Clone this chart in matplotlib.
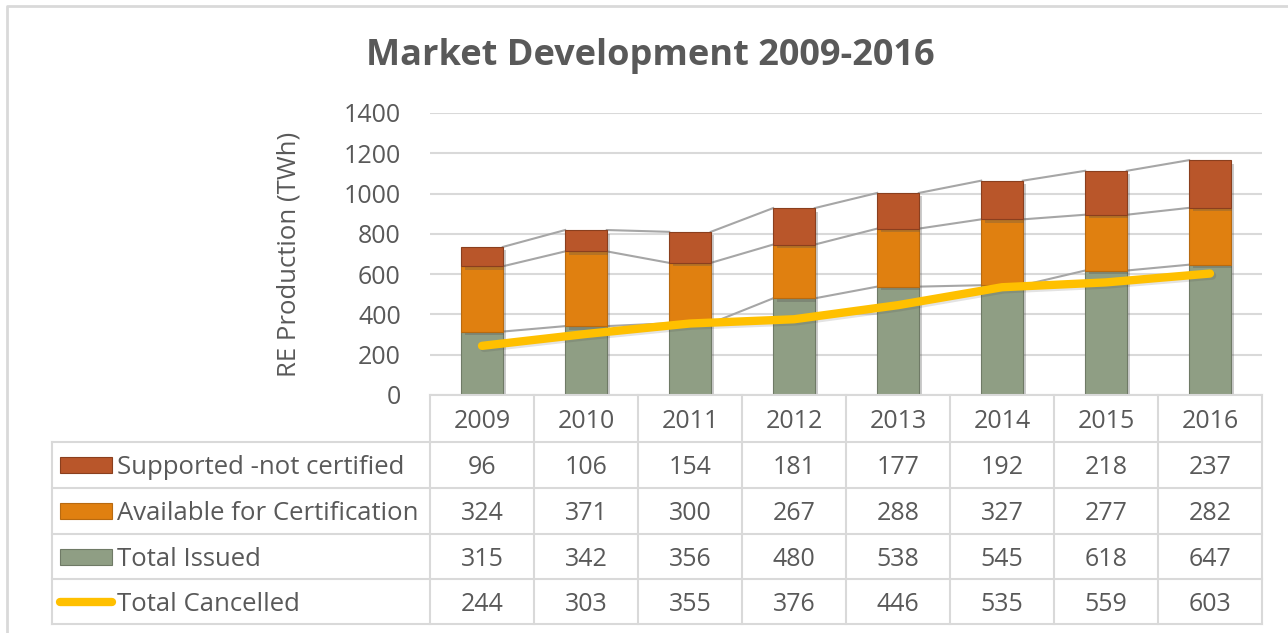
import matplotlib
matplotlib.use("Agg")
import matplotlib.pyplot as plt
import matplotlib.transforms as mtransforms
import matplotlib.patheffects as pe
from matplotlib.patches import Rectangle
from matplotlib.lines import Line2D
import numpy as np

years = ["2009", "2010", "2011", "2012", "2013", "2014", "2015", "2016"]
supported_not_certified = [96, 106, 154, 181, 177, 192, 218, 237]
available_for_cert = [324, 371, 300, 267, 288, 327, 277, 282]
total_issued = [315, 342, 356, 480, 538, 545, 618, 647]
total_cancelled = [244, 303, 355, 376, 446, 535, 559, 603]

series_names = ["Supported -not certified", "Available for Certification",
                "Total Issued", "Total Cancelled"]
c_sup = "#B9562A"
c_avail = "#E08010"
c_issued = "#8F9E84"
c_cancel = "#FFC000"
grid_c = "#D9D9D9"
text_c = "#595959"

FONT = "Open Sans"
plt.rcParams["font.family"] = [FONT, "DejaVu Sans"]

W, H = 1288, 633
fig = plt.figure(figsize=(W / 100, H / 100), dpi=100)

def fx(px):
    return px / W

def fy(py):
    return 1 - py / H

# plot area in pixels
L, R, T, B = 430, 1262, 113, 395
ax = fig.add_axes([fx(L), fy(B), fx(R - L), (B - T) / H])
ax.set_xlim(-0.5, len(years) - 0.5)
ax.set_ylim(0, 1400)
ax.set_yticks(np.arange(0, 1401, 200))
ax.set_xticks([])
ax.grid(axis="y", color=grid_c, linewidth=1.5)
ax.set_axisbelow(True)
for s in ax.spines.values():
    s.set_visible(False)
ax.tick_params(axis="y", length=0, pad=21, labelsize=18, labelcolor=text_c)
ax.set_ylabel("RE Production (TWh)", fontsize=18.5, color=text_c, labelpad=30)

x = np.arange(len(years))
bw = 0.4
shadow = [pe.SimplePatchShadow(offset=(2.5, -2.5), alpha=0.3, shadow_rgbFace="#555555"), pe.Normal()]
b1 = ax.bar(x, total_issued, bw, color=c_issued, edgecolor="#6f7a66", linewidth=0.8, zorder=3)
bot2 = np.array(total_issued)
b2 = ax.bar(x, available_for_cert, bw, bottom=bot2, color=c_avail, edgecolor="#b86a10", linewidth=0.8, zorder=3)
bot3 = bot2 + np.array(available_for_cert)
b3 = ax.bar(x, supported_not_certified, bw, bottom=bot3, color=c_sup, edgecolor="#8a3f1e", linewidth=0.8, zorder=3)
top = bot3 + np.array(supported_not_certified)
for bars in (b1, b2, b3):
    for p in bars:
        p.set_path_effects(shadow)

# series lines connecting segment tops
for level in (bot2, bot3, top):
    for i in range(len(years) - 1):
        ax.plot([x[i] + bw / 2, x[i + 1] - bw / 2], [level[i], level[i + 1]],
                color="#A6A6A6", linewidth=1.5, zorder=2)

ax.plot(x, total_cancelled, color=c_cancel, linewidth=6, solid_capstyle="round",
        zorder=5,
        path_effects=[pe.SimpleLineShadow(offset=(1.5, -1.5), alpha=0.15, shadow_color="#444444"), pe.Normal()])

# title
fig.text(fx(650), fy(56), "Market Development 2009-2016", ha="center", va="center",
         fontsize=26, fontweight="bold", color=text_c)

# data table
tr = mtransforms.blended_transform_factory(ax.transData, fig.transFigure)
rows_px = [395, 442, 488, 534, 579, 624]
TL = 52
TOFF = 3
# horizontal lines
for i, yp in enumerate(rows_px[1:]):
    fig.add_artist(Line2D([fx(TL), fx(R)], [fy(yp), fy(yp)], color=grid_c, linewidth=1.5))
fig.add_artist(Line2D([fx(L), fx(R)], [fy(rows_px[0]), fy(rows_px[0])], color=grid_c, linewidth=1.5))
# vertical lines
for k in range(len(years) + 1):
    xb = k - 0.5
    fig.add_artist(Line2D([xb, xb], [fy(rows_px[0]), fy(rows_px[-1])], color=grid_c,
                          linewidth=1.5, transform=tr))
fig.add_artist(Line2D([fx(TL), fx(TL)], [fy(rows_px[1]), fy(rows_px[-1])], color=grid_c, linewidth=1.5))

# header years
hy = (rows_px[0] + rows_px[1]) / 2 + TOFF
for i, yr in enumerate(years):
    fig.text(x[i], fy(hy), yr, ha="center", va="center", fontsize=18, color=text_c, transform=tr)

table_rows = [supported_not_certified, available_for_cert, total_issued, total_cancelled]
colors = [c_sup, c_avail, c_issued, c_cancel]
edges = ["#8a3f1e", "#b86a10", "#6f7a66", None]
for r, (vals, name, col, ec) in enumerate(zip(table_rows, series_names, colors, edges)):
    cy = (rows_px[r + 1] + rows_px[r + 2]) / 2
    for i, v in enumerate(vals):
        fig.text(x[i], fy(cy + TOFF), str(v), ha="center", va="center", fontsize=18,
                 color=text_c, transform=tr)
    if ec is not None:
        fig.add_artist(Rectangle((fx(60), fy(cy + 8)), fx(52), 16 / H, facecolor=col,
                                 edgecolor=ec, linewidth=0.8))
    else:
        fig.add_artist(Line2D([fx(60), fx(112)], [fy(cy), fy(cy)], color=col, linewidth=6,
                              solid_capstyle="round"))
    fig.text(fx(117), fy(cy + TOFF), name, ha="left", va="center", fontsize=18.5, color=text_c)

# chart area border
fig.add_artist(Line2D([fx(7), fx(7), fx(W + 5)], [fy(H + 5), fy(6), fy(6)],
                      color=grid_c, linewidth=2))

fig.savefig("out.png", dpi=100)
